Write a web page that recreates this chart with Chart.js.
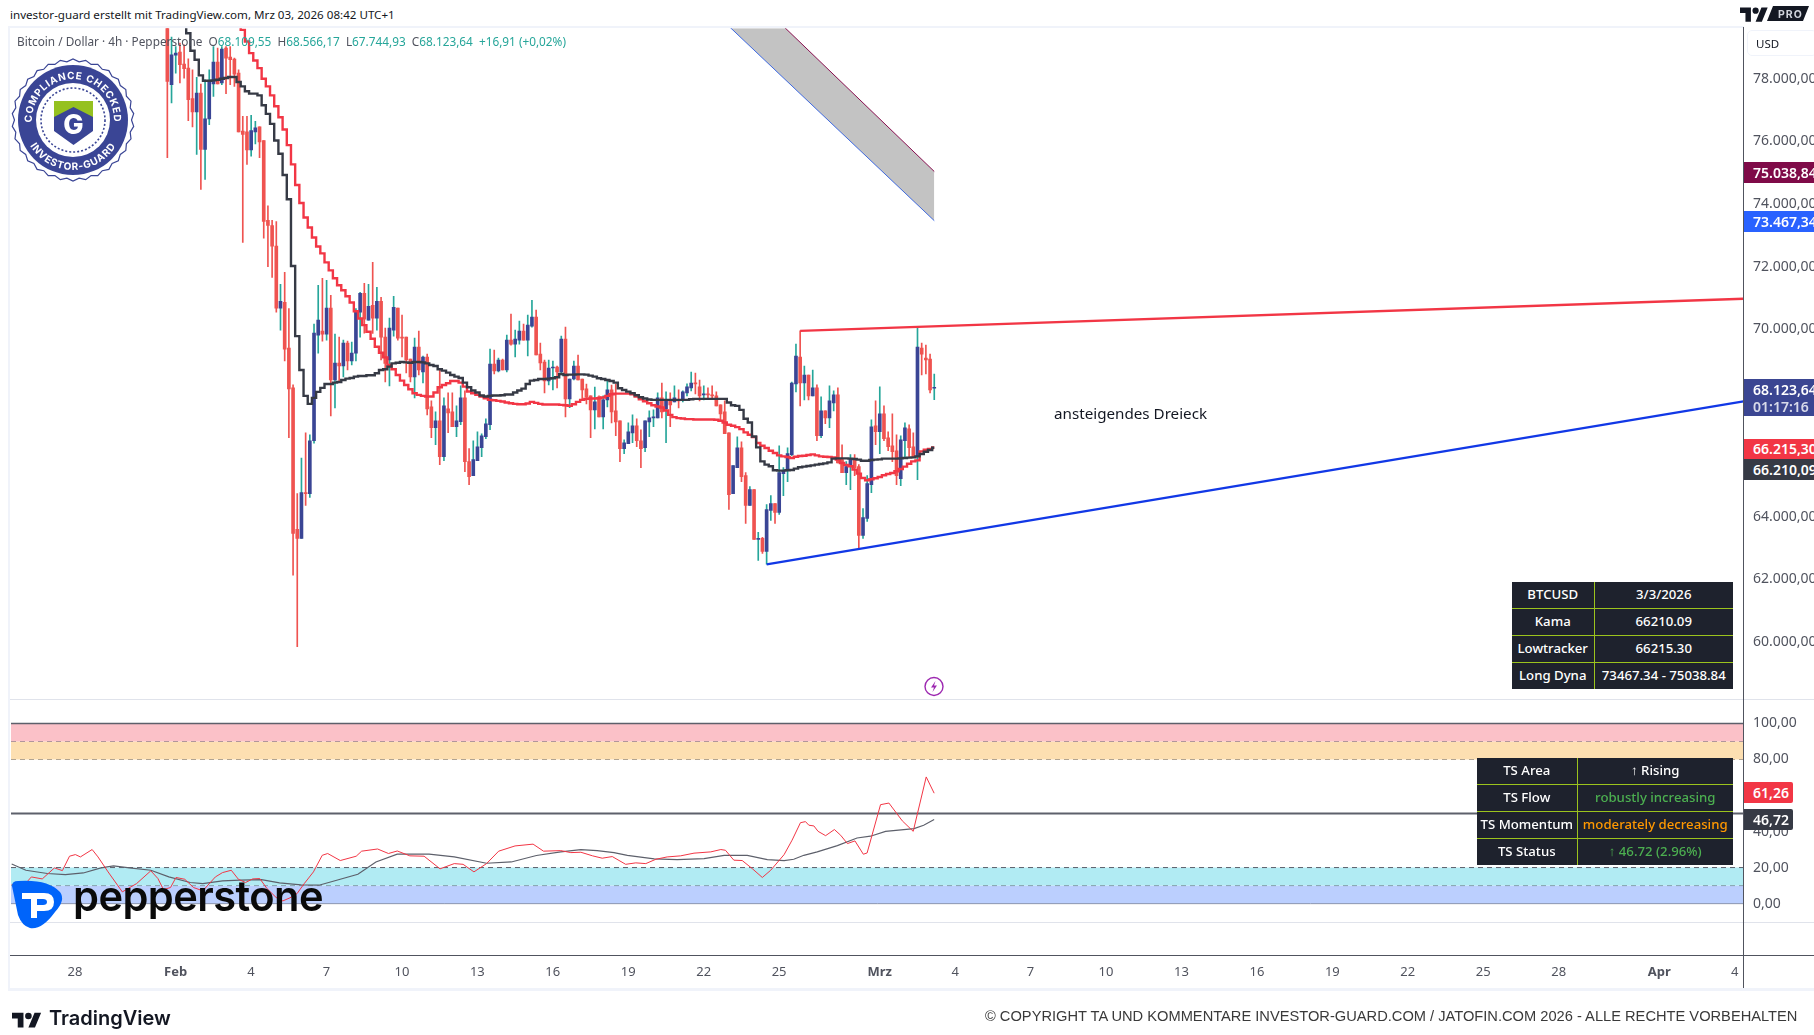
<!DOCTYPE html>
<html><head><meta charset="utf-8"><title>BTCUSD</title>
<script src="https://cdn.jsdelivr.net/npm/chart.js@4/dist/chart.umd.js"></script>
<style>
html,body{margin:0;padding:0;background:#fff;width:1814px;height:1035px;overflow:hidden;font-family:"Noto Sans",sans-serif}
.abs{position:absolute}
canvas{position:absolute;display:block}
.ln{position:absolute}
.pl{position:absolute;left:1744px;color:#fff;font:600 14px "Noto Sans",sans-serif;padding-left:9px;box-sizing:border-box;overflow:hidden;white-space:nowrap}
table.tb{position:absolute;border-collapse:collapse;background:#1e222d;table-layout:fixed;color:#fff;font:500 13.2px "Noto Sans",sans-serif;text-align:center}
table.tb td{padding:0 0 2px 0;border:1px solid #9bc31d;white-space:nowrap;overflow:hidden}
table.tb tr:first-child td{border-top:none}table.tb tr:last-child td{border-bottom:none}
table.tb td:first-child{border-left:none}table.tb td:last-child{border-right:none}
</style></head><body>
<canvas id="main" style="left:10px;top:27px"></canvas>
<canvas id="osc" style="left:10px;top:699px"></canvas>
<div id="overlay"></div>
<script>
// ---- candle data, index 0 = 28 Jan 00:00, one index = one 4h candle ----
const firstCandle = 22;
const opens = [80000,77813,78758,78854,78471,78344,77367,76943,
77548,75743,76720,77834,78535,77866,78981,78694,78631,78185,
76327,76306,75732,76306,76465,76030,73481,73311,72653,70669,
70860,69395,68121,63598,63311,64776,64744,66432,69809,69936,
69841,70669,68375,68917,68821,69554,68981,69235,70541,71146,
70286,70764,70350,70892,69745,69012,69968,70669,69745,69745,
69044,68471,69426,68630,69108,67515,66847,67070,65923,67452,
67356,66878,67038,67802,65764,65318,65796,66209,66560,66942,
68885,68662,69012,68694,69649,69522,69649,69936,69649,70095,
70382,69204,68949,68344,68758,68789,68630,69681,67769,68406,
68820,68406,68088,67865,67419,67833,67196,67737,68056,67387,
67069,66177,66336,66686,66909,66432,66209,67037,67165,67165,
67802,67451,67738,67674,67738,67738,67961,68120,68279,68152,
67897,67929,67897,67865,67579,67356,66687,64744,65572,66209,
65317,64362,64871,63279,63311,62897,64203,64426,64139,65381,
65477,65986,68248,69108,68279,68534,67865,68120,66591,67388,
67165,67642,67897,65827,65413,65604,65859,65604,63406,63948,
65031,66910,66719,67292,66528,66273,66113,65222,66432,66814,
66241,65922,69394,69076,69044,68110];
const highs = [80300,79331,79034,79140,79087,78641,78291,78047,
77834,77972,78291,79034,78981,79034,79034,79034,78662,78291,
76804,76804,76836,76645,76465,76030,73938,73481,73439,71433,
71815,70658,68216,64744,65880,66687,66624,70159,71401,71624,
71560,71083,69841,69745,69649,69618,69586,70658,71178,71465,
71433,72134,71338,71019,70032,70350,71051,70669,70446,69745,
69044,69713,69936,69140,69204,67707,67356,68694,67802,67961,
67961,67547,68184,68025,66178,66432,66719,66655,67133,69363,
69331,69076,69044,69809,70478,69968,70255,70159,70446,70923,
70605,69554,69012,69012,68981,68821,69777,70063,68406,68980,
69171,68406,68247,67865,68151,67865,67865,68343,68215,68247,
67069,66463,67005,67260,67132,66782,67069,67388,67419,67961,
68279,67993,67961,68184,68056,68025,68248,68630,68598,68375,
68184,68120,68184,67993,67579,67706,66687,65636,66559,66400,
65413,64967,64871,63502,63343,64394,64680,64426,66273,65572,
66209,68311,69522,69946,68821,68534,68693,68216,67833,67388,
68184,68025,68120,66305,65763,65986,65986,65668,64266,65317,
67101,67706,68152,67547,66719,67292,66623,66591,67005,66942,
66687,70063,69553,69490,69203,68566];
const lows = [75477,77229,78185,77866,78025,76666,76465,75584,
74469,74787,76539,77442,77834,77813,77526,77813,77760,76306,
72770,75265,75530,75923,75477,72908,71995,71655,70541,69968,
68981,66528,62133,59850,63311,64362,64617,66358,69235,69618,
69649,67229,67484,68344,68471,68694,68853,68981,69745,69872,
70286,69862,69968,69012,68312,68184,69777,69649,69108,68598,
68312,67802,68535,68280,67261,66528,66305,65668,65796,66687,
66878,66560,66942,65445,65031,65318,65796,65923,66496,66783,
68567,68630,68694,68630,69490,69108,69522,69649,69140,70064,
69172,68694,67961,68216,68057,68121,68535,67197,67493,68374,
68374,67769,67610,66527,66814,67196,66814,67514,67005,66591,
65763,66018,66336,66368,66240,65571,66082,66560,66878,67165,
67165,66368,66878,67674,67483,67674,67865,68025,67929,67706,
67738,67802,67802,67547,67101,66655,64234,64744,65572,65126,
63788,64362,63279,62610,62833,62483,63884,63788,64075,64680,
65126,65954,67993,67547,67738,67738,67865,66432,66528,66974,
66846,67388,65721,65413,65031,64871,65317,62960,63311,63852,
64776,66305,66018,66432,66113,65763,65031,64999,65890,65890,
65922,65190,68534,68566,67961,67745];
const closes = [77919,78769,78822,78450,78323,77335,76943,77548,
75743,76720,77919,78535,77834,78949,78662,78609,78153,76306,
76221,75732,76348,76433,75987,73439,73311,72653,70668,70892,
69363,68089,63470,63311,64776,64744,66432,69872,70286,69841,
70669,68375,68917,68821,69554,68981,69235,70573,71146,70318,
70732,70350,70892,69745,68906,70032,70700,69713,69713,69012,
68471,69426,68694,69108,67452,66847,67070,65923,67547,67324,
66878,67070,67802,65764,65286,65827,66241,66592,66974,68885,
68662,69012,68694,69649,69522,69681,69936,69649,70127,70382,
69172,68917,68344,68758,68789,68630,69681,67770,68406,68820,
68374,68056,67822,67419,67674,67196,67737,68056,67355,67037,
66177,66368,66718,66909,66432,66177,67069,67165,67196,67802,
67356,67738,67579,67802,67706,67993,68152,68279,68248,67865,
67929,67897,67865,67547,67292,66655,64712,65636,66209,65285,
64362,64871,63279,63311,62897,64234,64426,64139,65413,65477,
66018,68279,69139,68279,68534,67865,68120,66591,67388,67165,
67706,67897,65721,65413,65604,65859,65572,63406,63980,65063,
66878,66719,67292,66496,66241,66082,65317,66464,66846,66209,
65922,69426,69203,69012,68056,68124];

// ---- Kama (black step line) starts at candle 26, Lowtracker (red) at candle 39 ----
const kamaStart = 26;
const kama = [79830,79459,78896,78609,78110,77941,77941,77951,77972,78004,78025,78057,78057,77898,
77760,77601,77526,77526,77473,77155,76879,76560,76029,75605,74925,74150,72016,69777,68694,67866,
67611,67802,67993,68121,68248,68248,68290,68312,68375,68418,68439,68482,68503,68503,68524,68524,
68588,68694,68715,68800,68906,68927,68949,68938,68927,68949,68949,68938,68906,68853,68821,68715,
68673,68609,68534,68482,68439,68290,68142,68036,67972,67876,67845,67866,67876,67876,67887,67908,
67908,67972,68036,68099,68248,68354,68375,68407,68407,68418,68428,68460,68566,68534,68544,68544,
68555,68555,68544,68512,68481,68428,68406,68374,68343,68289,68109,68056,68003,67950,67886,67822,
67780,67749,67738,67738,67738,67738,67738,67738,67738,67738,67738,67759,67770,67770,67770,67770,
67770,67770,67770,67770,67653,67568,67547,67420,67133,67016,66570,66220,65774,65668,65615,65487,
65477,65477,65487,65498,65540,65583,65604,65625,65646,65668,65689,65710,65742,65859,65869,65869,
65869,65859,65848,65827,65795,65795,65816,65827,65837,65859,65859,65859,65859,65869,65880,65891,
65901,65933,66007,66082,66135,66210];
const lowStart = 39;
const lowTracker = [79724,79565,79193,78822,78588,78344,78004,77760,77473,77123,76773,76380,75881,
75265,74607,74033,73566,73248,72929,72643,72420,72133,71879,71624,71401,71242,71051,70849,70573,
70340,70127,69915,69692,69437,69246,69097,68853,68715,68535,68354,68216,68078,67951,67898,67866,
67845,67845,67972,68142,68216,68269,68344,68344,68290,68163,68004,67951,67898,67845,67791,67738,
67728,67707,67685,67653,67632,67611,67600,67600,67622,67675,67643,67611,67590,67590,67590,67590,
67579,67568,67546,67599,67674,67737,67769,67780,67780,67790,67812,67865,67918,67939,67939,67939,
67939,67918,67844,67759,67695,67632,67568,67526,67494,67398,67260,67186,67154,67143,67122,67122,
67112,67112,67112,67112,67112,67101,67069,67016,66942,66910,66867,66804,66698,66623,66549,66358,
66273,66198,66113,66039,65965,65933,65912,65880,65922,65944,65954,65976,65997,65965,65933,65922,
65912,65901,65827,65721,65657,65615,65508,65381,65243,65169,65200,65232,65275,65328,65370,65402,
65455,65530,65604,65699,65774,65805,66092,66145,66167,66215];

// ---- Long Dyna band ----
const dynaX = [150,205];
const dynaUpper = [82133,75039];
const dynaLower = [80442,73467];
// ---- triangle trend lines ----
const resistX = [173,398.1];
const resist = [69946,70971];
const supportX = [165,398.1];
const support = [62484,67691];

// ---- oscillator (lower pane), read as knots ----
const oscRedX = [-15.1,-12.5,-10.4,-7.8,-4.9,-3,-1.3,0.1,1.3,4.1,5.5,7.9,11.3,14.7,18.1,19.8,21.1,22.8,24.1,26.2,28.3,30.5,33.5,35.2,37.3,39,40.7,42.4,44.1,45.8,48,49.6,51.3,53,54.7,56.9,59,60.3,63.3,67.1,68.4,72.2,74.8,76.9,79.9,83.3,87.1,90.5,92.6,95.2,98.2,101.1,105,109.3,111.8,115.9,118.3,120.7,123.5,125.8,128.2,131.4,133.8,136.2,138.6,141.3,144.5,147.7,151.7,154.1,155.2,157.2,159.2,161.6,164,166,169.2,171.1,173.1,174.3,175.1,176.3,177.3,179.1,181.2,182.7,184.3,186.1,188.1,189,192.2,194.2,197.4,200,203.1,205];
const oscRed = [10.6,9.3,14.8,13.7,19.8,18.3,26.3,27.2,25.9,30,25.9,17.6,6.5,11.1,18.2,13.9,7.8,8.9,14.5,13.5,8.9,7.1,14.8,17.2,18.5,13.5,11.7,13.7,13.9,8.4,3.4,1.5,3.2,5.6,11.1,17.6,26.8,27.8,23.9,26.3,29.1,30.3,27.8,29.2,26.5,26.3,19.3,22.2,21.8,17.6,22.2,29.1,32,33,29.1,29.4,28.3,28.5,26.5,25.2,26.1,21.8,22.6,22.2,24.6,25.9,26.5,28,28.7,30,29.6,24.1,23.9,19.4,14.5,18.5,27.2,35.2,44.9,45.5,43.5,43.1,40.1,37.7,41.1,37.9,33.3,34.8,27.4,28.1,54.9,55.8,45.9,40.1,70.3,61.26];
const oscGrayX = [-15.1,-11.7,-6.6,-2.3,2,6.2,9.2,13,18.1,22.4,27.5,30.5,35.2,39.4,44.5,48.8,53.9,58.2,61.6,67.5,71.8,76.9,84.5,90.5,98.2,104.1,110.1,115.9,120.7,124.6,128.6,131.8,138.2,143.7,150.1,154.9,160.4,165.2,169.2,171.5,173.9,177.1,181.9,186.6,189.8,193.4,200.2,202.5,205];
const oscGray = [22,18.5,16.7,16.1,17,19.8,20.9,19.8,18.5,14.8,11.7,11.1,12.6,13,13.3,11.5,10.4,10.2,12.4,16.3,23.1,27.4,27.4,25.9,22.4,23.1,26.7,28.7,30,29.4,28.3,26.8,24.8,24.4,25,26.8,26.8,24.4,23.9,24.6,26.8,28.7,32.2,36.4,37.4,40.1,41.6,43.5,46.72];

// ---- axes ----
const timeTicks = [0,24,42,60,78,96,114,132,150,168,192,210,228,246,264,282,300,318,336,354,378,396];
const timeLabels = ['28','Feb','4','7','10','13','16','19','22','25','Mrz','4','7','10','13','16','19','22','25','28','Apr','4'];
const boldLabels = ['Feb','Mrz','Apr'];
const priceTicks = [60000,62000,64000,66000,68000,70000,72000,74000,76000,78000];
const oscTicks = [0,20,40,60,80,100];
const oscLevels = [100,90,80,50,20,10,0];

const X_MIN=-15.26, X_MAX=398.1;
const AXIS='#50535e', UP='#3a4595', DOWN='#ef5350', WICK_UP='#26a69a';
const de = (v)=>v.toLocaleString('de-DE',{minimumFractionDigits:2,maximumFractionDigits:2});
Chart.defaults.animation=false;
Chart.defaults.devicePixelRatio=1;
Chart.defaults.font.family='"Noto Sans",sans-serif';
const noPlugins={legend:{display:false},tooltip:{enabled:false}};
const pts=(xs,ys)=>xs.map((x,i)=>({x,y:ys[i]}));
const seq=(start,ys)=>ys.map((y,i)=>({x:start+i,y}));
const fixY=(w)=>(s)=>{s.width=w;s.paddingTop=0;s.paddingBottom=0;};

const idx=opens.map((_,i)=>firstCandle+i);
const isUp=(i)=>closes[i]>=opens[i];
new Chart(document.getElementById('main'),{
  type:'line',
  data:{datasets:[
    {type:'line',label:'Long Dyna low',data:pts(dynaX,dynaLower),borderColor:'#2962ff',borderWidth:1,pointRadius:0,order:6,fill:false},
    {type:'line',label:'Long Dyna high',data:pts(dynaX,dynaUpper),borderColor:'#880e4f',borderWidth:1,pointRadius:0,order:5,fill:{target:0},backgroundColor:'rgba(130,130,130,0.48)'},
    {type:'bar',label:'wick',data:idx.map((x,i)=>({x,y:[lows[i],highs[i]]})),barThickness:1,grouped:false,backgroundColor:idx.map((_,i)=>isUp(i)?WICK_UP:DOWN),order:4},
    {type:'bar',label:'body',data:idx.map((x,i)=>({x,y:[opens[i],closes[i]]})),barThickness:3,grouped:false,minBarLength:1,backgroundColor:idx.map((_,i)=>isUp(i)?UP:DOWN),order:3},
    {type:'line',label:'Lowtracker',data:seq(lowStart,lowTracker),stepped:'middle',borderColor:'#f23645',borderWidth:2.4,pointRadius:0,order:2},
    {type:'line',label:'Kama',data:seq(kamaStart,kama),stepped:'middle',borderColor:'#363a45',borderWidth:2.4,pointRadius:0,order:1},
    {type:'line',label:'Resistance',data:pts(resistX,resist),borderColor:'#f23645',borderWidth:2.3,pointRadius:0,order:0},
    {type:'line',label:'Support',data:pts(supportX,support),borderColor:'#1138e6',borderWidth:2.3,pointRadius:0,order:0}
  ]},
  options:{responsive:false,maintainAspectRatio:false,layout:{padding:0},plugins:noPlugins,
    scales:{
      x:{type:'linear',display:false,min:X_MIN,max:X_MAX,offset:false,grid:{display:false}},
      y:{type:'linear',position:'right',min:58215.5,max:79618.7,grid:{display:false,drawTicks:false},border:{display:false},
        afterBuildTicks:(s)=>{s.ticks=priceTicks.map(value=>({value}));},
        afterFit:fixY(70.5),
        ticks:{color:AXIS,font:{size:14},padding:9.5,autoSkip:false,callback:(v)=>de(v)}}
    }}
});

const level=(v,extra)=>Object.assign({type:'line',data:[{x:X_MIN,y:v},{x:X_MAX,y:v}],pointRadius:0,borderColor:'#5d606b',borderWidth:1,fill:false},extra||{});
new Chart(document.getElementById('osc'),{
  type:'line',
  data:{datasets:[
    level(oscLevels[0],{label:'100',borderWidth:1.5,fill:{target:'+1'},backgroundColor:'#fbc1c8',order:5}),
    level(oscLevels[1],{label:'90',borderDash:[5,4],fill:{target:'+1'},backgroundColor:'#fddfb1',order:5}),
    level(oscLevels[2],{label:'80',borderDash:[5,4],order:5}),
    level(oscLevels[3],{label:'50',borderWidth:2,order:4}),
    level(oscLevels[4],{label:'20',borderDash:[5,4],fill:{target:'+1'},backgroundColor:'#b1ebf3',order:5}),
    level(oscLevels[5],{label:'10',borderDash:[5,4],fill:{target:'+1'},backgroundColor:'#bbcffe',order:5}),
    level(oscLevels[6],{label:'0',order:5}),
    {type:'line',label:'TS signal',data:pts(oscGrayX,oscGray),borderColor:'#5d606b',borderWidth:1.2,pointRadius:0,order:2},
    {type:'line',label:'TS',data:pts(oscRedX,oscRed),borderColor:'#f23645',borderWidth:1,pointRadius:0,order:1}
  ]},
  options:{responsive:false,maintainAspectRatio:false,layout:{padding:0},plugins:noPlugins,
    scales:{
      x:{type:'linear',position:'bottom',min:X_MIN,max:X_MAX,offset:false,grid:{display:false,drawTicks:false},border:{display:false},
        afterBuildTicks:(s)=>{s.ticks=timeTicks.map(value=>({value}));},
        afterFit:(s)=>{s.height=32.4;s.paddingLeft=0;s.paddingRight=0;},
        ticks:{autoSkip:false,maxRotation:0,minRotation:0,padding:9,
          color:(c)=>AXIS,
          font:(c)=>{const l=timeLabels[c.index];return {size:13,weight:boldLabels.includes(l)?'700':'400'};},
          callback:(v)=>timeLabels[timeTicks.indexOf(v)]}},
      y:{type:'linear',position:'right',min:-28.86,max:112.99,grid:{display:false,drawTicks:false},border:{display:false},
        afterBuildTicks:(s)=>{s.ticks=oscTicks.map(value=>({value}));},
        afterFit:fixY(70.5),
        ticks:{color:AXIS,font:{size:14},padding:9.5,autoSkip:false,callback:(v)=>de(v)}}
    }}
});

// ---- overlay (frame, labels, tables, logos) ----
const priceLabels=[
 {t:'75.038,84',top:162,h:21,bg:'#7f0a48'},
 {t:'73.467,34',top:211,h:21,bg:'#2962ff'},
 {t:'66.215,30',top:439,h:20,bg:'#f23645'},
 {t:'66.210,09',top:459,h:21,bg:'#363a45'}];
const tableA=[['BTCUSD','3/3/2026'],['Kama','66210.09'],['Lowtracker','66215.30'],['Long Dyna','73467.34 - 75038.84']];
const tableB=[['TS Area','↑ Rising','#fff'],['TS Flow','robustly increasing','#4caf50'],['TS Momentum','moderately decreasing','#ff9800'],['TS Status','↑ 46.72 (2.96%)','#4caf50']];
const mkTable=(rows,l,t,c1,c2,h)=>`<table class="tb" style="left:${l}px;top:${t}px;width:${c1+c2}px;height:${h}px"><colgroup><col style="width:${c1}px"><col style="width:${c2}px"></colgroup>`+
 rows.map(r=>`<tr><td>${r[0]}</td><td style="color:${r[2]||'#fff'}">${r[1]}</td></tr>`).join('')+'</table>';
const scallop=(()=>{let d='';const n=30;for(let i=0;i<=n*2;i++){const a=i/(n*2)*Math.PI*2,r=i%2?61:58.5,x=73+r*Math.cos(a),y=120+r*Math.sin(a);d+=(i?'L':'M')+x.toFixed(1)+' '+y.toFixed(1);}return d+'Z';})();
document.getElementById('overlay').innerHTML=`
<div class="ln" style="left:8px;top:26px;width:1736px;height:2px;background:#f0f3fa"></div>
<div class="ln" style="left:8px;top:26px;width:2px;height:964px;background:#f0f3fa"></div>
<div class="ln" style="left:8px;top:988px;width:1806px;height:3px;background:#f0f3fa"></div>
<div class="ln" style="left:10px;top:699px;width:1804px;height:1px;background:#e0e3eb"></div>
<div class="ln" style="left:10px;top:922px;width:1804px;height:1px;background:#e0e3eb"></div>
<div class="ln" style="left:10px;top:955px;width:1804px;height:1px;background:#50535e"></div>
<div class="ln" style="left:1743px;top:27px;width:1px;height:961px;background:#50535e"></div>
<div class="abs" style="left:10px;top:7px;font-size:11.6px;color:#131722;white-space:nowrap">investor-guard erstellt mit TradingView.com, Mrz 03, 2026 08:42 UTC+1</div>
<div class="abs" style="left:17px;top:33px;font-size:11.8px;color:#50535e;white-space:pre">Bitcoin / Dollar · 4h · Pepperstone  O<span style="color:#26a69a">68.109,55</span>  H<span style="color:#26a69a">68.566,17</span>  L<span style="color:#26a69a">67.744,93</span>  C<span style="color:#26a69a">68.123,64</span>  <span style="color:#26a69a">+16,91 (+0,02%)</span></div>
<div class="abs" style="left:1054px;top:403px;font-size:15.2px;color:#131722;white-space:nowrap">ansteigendes Dreieck</div>
<div class="abs" style="left:1747px;top:30px;width:70px;height:26px;border:1px solid #f0f3fa;border-radius:5px;box-sizing:border-box"></div>
<div class="abs" style="left:1756px;top:36px;font-size:11.5px;color:#131722">USD</div>
${priceLabels.map(p=>`<div class="pl" style="top:${p.top}px;width:70px;height:${p.h}px;line-height:${p.h}px;background:${p.bg}">${p.t}</div>`).join('')}
<div class="pl" style="top:379px;width:70px;height:37px;background:#3b4692;line-height:17px;padding-top:2px">68.123,64<br><span style="opacity:.8">01:17:16</span></div>
<div class="pl" style="top:782px;width:49px;height:21px;line-height:21px;background:#f23645;border-radius:0 2px 2px 0">61,26</div>
<div class="pl" style="top:809px;width:49px;height:21px;line-height:21px;background:#363a45;border-radius:0 2px 2px 0">46,72</div>
${mkTable(tableA,1512,582,82,139,107)}
${mkTable(tableB,1477,758,100,156,107)}
<svg class="abs" style="left:0;top:0" width="1814" height="1035" viewBox="0 0 1814 1035">
  <defs>
    <path id="arcTop" d="M 32 120 A 41 41 0 1 1 114 120"/>
    <path id="arcBot" d="M 23 120 A 50 50 0 0 0 123 120"/>
  </defs>
  <path d="${scallop}" fill="#fff" stroke="#3a4595" stroke-width="1.2"/>
  <circle cx="73" cy="120" r="55" fill="#3a4595"/>
  <circle cx="73" cy="120" r="37" fill="#fff"/>
  <circle cx="73" cy="120" r="32" fill="none" stroke="#3a4595" stroke-width="1.6" stroke-dasharray="2 2"/>
  <text font-family="Inter,Roboto,sans-serif" font-weight="700" font-size="10" fill="#fff" letter-spacing="0.8"><textPath href="#arcTop" startOffset="50%" text-anchor="middle">COMPLIANCE CHECKED</textPath></text>
  <text font-family="Inter,Roboto,sans-serif" font-weight="700" font-size="10" fill="#fff" letter-spacing="0.8"><textPath href="#arcBot" startOffset="50%" text-anchor="middle">INVESTOR-GUARD</textPath></text>
  <path d="M54 101H93V131L73.500 145L54 131Z" fill="#3a4595"/>
  <path d="M54 101H93V117L73.500 107L54 117Z" fill="#95c11f"/>
  <text x="73.500" y="134" text-anchor="middle" font-family="Inter,Roboto,sans-serif" font-weight="800" font-size="27" fill="#fff">G</text>
  <circle cx="934" cy="686.500" r="9" fill="#fff" stroke="#9c27b0" stroke-width="1.4"/>
  <path d="M935.500 681L931 687.500H934L932.500 692L937 685.500H934Z" fill="#9c27b0"/>
  <path d="M12 886Q12 881 18 881Q48 879 60 892Q66 900 55 912Q42 930 30 928Q22 926 18 915Z" fill="#0064fa"/>
  <path d="M22 893H44Q54 893 54 902Q54 911 44 911H37V918H31V899H22Z M37 899V905H43Q47 905 47 902Q47 899 43 899Z" fill="#fff" fill-rule="evenodd"/>
  <text x="73" y="911" font-family="Inter,sans-serif" font-weight="600" font-size="41.6" letter-spacing="-0.55" fill="#0a0a0a">pepperstone</text>
  <g transform="translate(12,1009.500) scale(0.82)"><path d="M14 22H7V11H0V4h14v18zM28 22h-8l7.500-18h8L28 22z" fill="#131722"/><circle cx="20" cy="8" r="4" fill="#131722"/></g>
  <text x="49" y="1025" font-family="Inter,sans-serif" font-weight="600" font-size="20" fill="#131722">TradingView</text>
  <g transform="translate(1740,4.500) scale(0.78)"><path d="M14 22H7V11H0V4h14v18zM28 22h-8l7.500-18h8L28 22z" fill="#131722"/><circle cx="20" cy="8" r="4" fill="#131722"/></g>
  <path d="M1773 6H1809L1803 21H1767Z" fill="#131722"/>
  <text x="1778" y="18" font-family="Inter,sans-serif" font-weight="700" font-size="10.500" letter-spacing="1" fill="#d1d4dc">PRO</text>
  <text x="985" y="1021" font-family="'Liberation Sans',Arial,sans-serif" font-size="14.66" fill="#3a3a3a">© COPYRIGHT TA UND KOMMENTARE INVESTOR-GUARD.COM / JATOFIN.COM 2026 - ALLE RECHTE VORBEHALTEN</text>
</svg>`;
</script>
<script>
// canvas sizes are set through the library's resize so no CSS scaling is introduced
for(const [id,w,h] of [['main',1804,672],['osc',1804,289]]){Chart.getChart(id).resize(w,h);}
</script>
</body></html>
